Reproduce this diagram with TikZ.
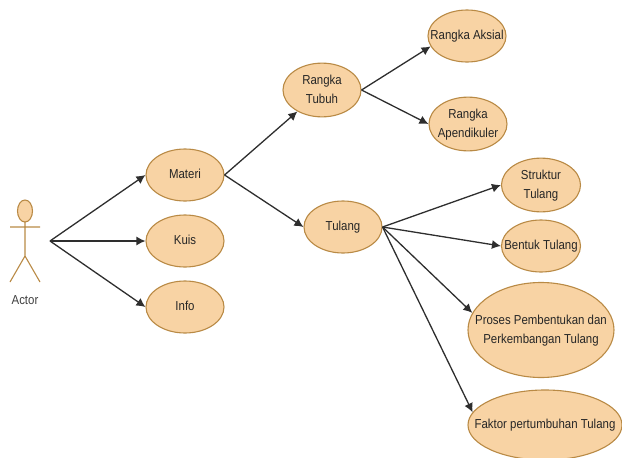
\documentclass[tikz,border=0pt]{standalone}
\usepackage{fontspec}
\setmainfont[FakeStretch=0.88]{Liberation Sans}
\usetikzlibrary{arrows.meta,shapes.geometric}
\definecolor{usecasefill}{HTML}{F8D3A4}
\definecolor{usecaseline}{HTML}{B98A45}
\definecolor{panah}{HTML}{2E2E2E}
% teks tidak ikut menentukan ukuran elips
\newcommand{\ucteks}[1]{\makebox[0pt]{\begin{tabular}{@{}c@{}}#1\end{tabular}}}
\tikzset{
  usecase/.style={ellipse,draw=usecaseline,fill=usecasefill,line width=1.1pt,inner sep=0pt,
    text=black!85,font=\fontsize{13}{19}\selectfont},
  garis/.style={draw=usecaseline,line width=1.1pt},
  panahuc/.style={draw=panah,line width=1.3pt,-{Latex[length=9pt,width=9pt]}}
}
\begin{document}
\begin{tikzpicture}[x=1pt,y=-1pt]
  \useasboundingbox (0,0) rectangle (622,458);

  % aktor
  \draw[garis,fill=usecasefill] (25,211) ellipse [x radius=7.5,y radius=11];
  \draw[garis] (25,222) -- (25,256) (10,227) -- (40,227) (10,282) -- (25,256) -- (40,282);
  \node[font=\fontsize{13}{14}\selectfont,text=black!75] (actor) at (25,300) {Actor};
  \coordinate (asal) at (50,241);

  % use case utama
  \node[usecase,minimum width=78pt,minimum height=52pt] (materi) at (185,175) {\ucteks{Materi}};
  \node[usecase,minimum width=78pt,minimum height=52pt] (kuis) at (185,241) {\ucteks{Kuis}};
  \node[usecase,minimum width=78pt,minimum height=52pt] (info) at (185,307) {\ucteks{Info}};
  \node[usecase,minimum width=78pt,minimum height=52pt] (tubuh) at (322,90) {\ucteks{Rangka\\Tubuh}};
  \node[usecase,minimum width=78pt,minimum height=52pt] (tulang) at (343,227) {\ucteks{Tulang}};

  % rangka
  \node[usecase,minimum width=78pt,minimum height=52pt] (aksial) at (467,36) {\ucteks{Rangka Aksial}};
  \node[usecase,minimum width=78pt,minimum height=52pt] (apendikuler) at (468,124) {\ucteks{Rangka\\Apendikuler}};

  % tulang
  \node[usecase,minimum width=79pt,minimum height=52pt] (struktur) at (541,185) {\ucteks{Struktur\\Tulang}};
  \node[usecase,minimum width=79pt,minimum height=52pt] (bentuk) at (541,246) {\ucteks{Bentuk Tulang}};
  \node[usecase,minimum width=146pt,minimum height=95pt] (proses) at (541,330) {\ucteks{Proses Pembentukan dan\\Perkembangan Tulang}};
  \node[usecase,minimum width=154pt,minimum height=70pt] (faktor) at (545,425) {\ucteks{Faktor pertumbuhan Tulang}};

  \draw[panahuc] (asal) -- (materi.west);
  \draw[panahuc] (asal) -- (kuis.west);
  \draw[panahuc] (asal) -- (info.west);
  \draw[panahuc] (materi.east) -- (tubuh);
  \draw[panahuc] (materi.east) -- (tulang.west);
  \draw[panahuc] (tubuh.east) -- (aksial.196);
  \draw[panahuc] (tubuh.east) -- (apendikuler.west);
  \draw[panahuc] (tulang.east) -- (struktur.west);
  \draw[panahuc] (tulang.east) -- (bentuk.west);
  \draw[panahuc] (tulang.east) -- (proses.166);
  \draw[panahuc] (tulang.east) -- (faktor.170);
\end{tikzpicture}
\end{document}
